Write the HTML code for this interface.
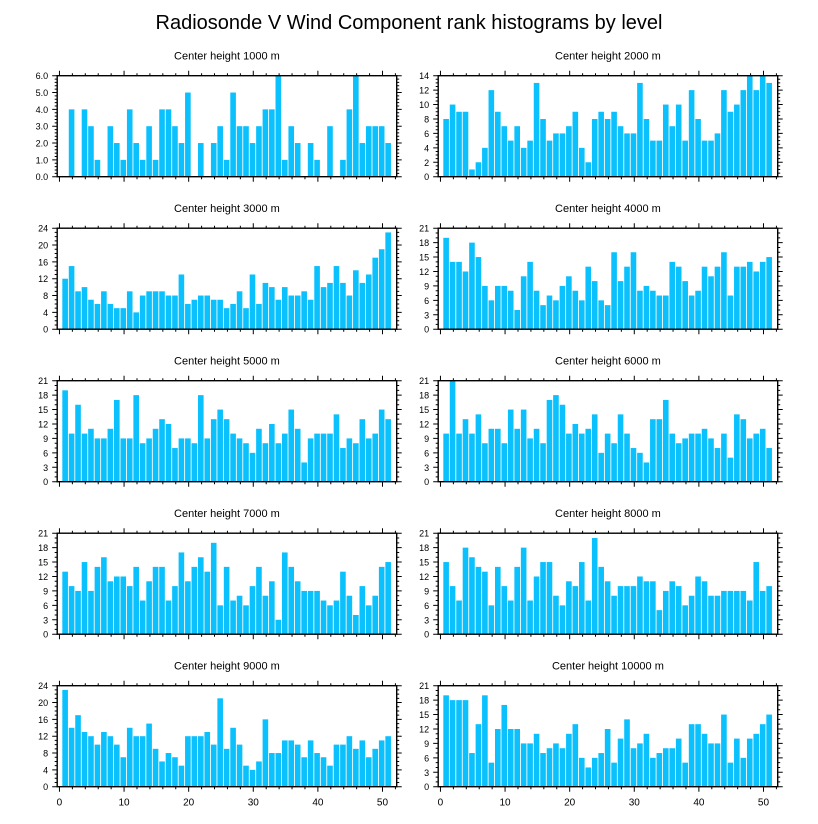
<!DOCTYPE html>
<html><head><meta charset="utf-8"><style>
html,body{margin:0;padding:0;background:#fff;}
svg{display:block;font-family:"Liberation Sans",sans-serif;}
</style></head><body>
<svg id="chart" width="818" height="824" viewBox="0 0 818 824" xmlns="http://www.w3.org/2000/svg">
<text x="409" y="29" text-anchor="middle" font-size="20">Radiosonde V Wind Component rank histograms by level</text>
</svg>
<script>
const panelTitles = ["Center height 1000 m","Center height 2000 m","Center height 3000 m","Center height 4000 m","Center height 5000 m","Center height 6000 m","Center height 7000 m","Center height 8000 m","Center height 9000 m","Center height 10000 m"];
const yMax = [6,14,24,21,21,21,21,21,24,21];
const yStep = [1,2,4,3,3,3,3,3,4,3];
const yMinorDiv = [5,4,4,3,3,3,3,3,4,3];
const xTicks = [0,10,20,30,40,50];
const h1000 = [0,0,4,0,4,3,1,0,3,2,1,4,2,1,3,1,4,4,3,2,5,0,2,0,2,3,1,5,3,3,2,3,4,4,6,1,3,2,0,2,1,0,3,0,1,4,6,2,3,3,3,2];
const h2000 = [0,8,10,9,9,1,2,4,12,9,7,5,7,4,5,13,8,5,6,6,7,9,4,2,8,9,8,9,7,6,6,13,8,5,5,10,7,10,5,12,8,5,5,6,12,9,10,12,14,12,14,13];
const h3000 = [0,12,15,9,10,7,6,9,6,5,5,9,4,8,9,9,9,8,8,13,6,7,8,8,7,7,5,6,9,5,13,6,11,10,7,10,8,8,9,7,15,10,11,15,11,8,14,11,13,17,19,23];
const h4000 = [0,19,14,14,12,18,15,9,6,9,9,8,4,11,14,8,5,7,6,9,11,8,6,13,10,6,5,16,10,13,16,8,9,8,7,7,14,13,10,7,8,13,11,13,16,7,13,13,14,12,14,15];
const h5000 = [0,19,10,16,10,11,9,9,11,17,9,9,18,8,9,11,13,12,7,9,9,8,18,9,13,15,13,10,9,8,6,11,8,12,8,10,15,11,4,9,10,10,10,14,7,9,8,13,9,10,15,13];
const h6000 = [0,10,21,10,13,10,14,8,11,11,8,15,11,15,9,11,8,17,18,16,10,12,10,11,14,6,10,8,14,10,7,6,4,13,13,17,10,8,9,10,10,11,9,7,10,5,14,13,9,10,11,7];
const h7000 = [0,13,10,9,15,9,14,16,11,12,12,10,14,7,11,14,14,7,10,17,11,14,16,13,19,6,14,7,8,6,10,14,8,11,3,17,14,11,9,9,9,7,6,7,13,8,4,10,6,8,14,15];
const h8000 = [0,15,10,7,18,16,14,13,6,14,10,7,14,18,7,12,15,15,8,6,11,10,15,7,20,14,11,8,10,10,10,12,11,11,5,9,11,10,6,8,12,11,8,8,9,9,9,9,7,15,9,10];
const h9000 = [0,23,14,17,13,12,10,13,12,10,7,14,12,12,15,9,6,8,7,5,12,12,12,13,10,21,9,14,10,5,4,6,16,8,8,11,11,10,7,11,8,7,5,10,10,12,9,11,7,9,11,12];
const h10000 = [0,19,18,18,18,7,13,19,5,12,17,12,12,9,9,11,7,8,9,8,11,13,6,4,6,7,12,5,10,14,8,9,11,6,7,8,8,10,5,13,13,11,9,9,15,5,10,6,10,11,13,15];
const series = [h1000,h2000,h3000,h4000,h5000,h6000,h7000,h8000,h9000,h10000];

const NS = "http://www.w3.org/2000/svg";
const svg = document.getElementById("chart");
function mk(tag, attrs, parent){const e=document.createElementNS(NS,tag);for(const k in attrs)e.setAttribute(k,attrs[k]);parent.appendChild(e);return e;}

const X0=-0.35, X1=52.2, PW=339.5, PH=101;
const lefts=[57.2,438.2], tops=[75.7,228.2,380.7,533.2,685.7];

for(let p=0;p<10;p++){
  const col=p%2, row=Math.floor(p/2);
  const L=lefts[col], T=tops[row], B=T+PH, R=L+PW;
  const xs=v=>L+(v-X0)/(X1-X0)*PW;
  const ys=v=>B-v/yMax[p]*PH;
  const g=mk("g",{},svg);
  
  
  const t=mk("text",{x:(L+R)/2,y:T-16,"text-anchor":"middle","font-size":"11"},g);
  
  
  t.textContent=panelTitles[p];
  const bars=mk("g",{},g);
  
  
  const vals=series[p];
  for(let i=0;i<vals.length;i++){
    if(vals[i]<=0)continue;
    const cx=xs(i)-0.8, w=5.6;
    const bx=Math.max(L,cx-w/2), bw=Math.min(cx+w/2,R)-bx;
    const r=mk("rect",{x:bx,y:ys(vals[i]),width:bw,height:B-ys(vals[i]),fill:"#0ac0fd"},bars);
    
    
  }
  let d="";
  // x ticks
  for(let v=0;v<=52;v+=2){
    const x=xs(v), major=(v%10===0), len=major?5:2.5;
    d+=`M${x},${B}v${len}M${x},${T}v${-len}`;
  }
  // y ticks
  const minor=yStep[p]/yMinorDiv[p];
  for(let k=0;k<=Math.round(yMax[p]/minor);k++){
    const v=k*minor, y=ys(v), major=(k%yMinorDiv[p]===0), len=major?5:2.5;
    d+=`M${L},${y}h${-len}M${R},${y}h${len}`;
  }
  const tk=mk("path",{d:d,stroke:"#000","stroke-width":"1",fill:"none"},g);
  
  
  const fr=mk("rect",{x:L,y:T,width:PW,height:PH,fill:"none",stroke:"#000","stroke-width":"1.4"},g);
  
  
  for(let v=0;v<=yMax[p]+1e-9;v+=yStep[p]){
    const lt=mk("text",{x:L-9,y:ys(v)+3.5,"text-anchor":"end","font-size":"9"},g);
    
    
    lt.textContent=p===0?v.toFixed(1):String(v);
  }
  if(row===4){
    for(const v of xTicks){
      const lt=mk("text",{x:xs(v),y:B+19,"text-anchor":"middle","font-size":"10"},g);
      
      
      lt.textContent=String(v);
    }
  }
}
</script>
</body></html>
